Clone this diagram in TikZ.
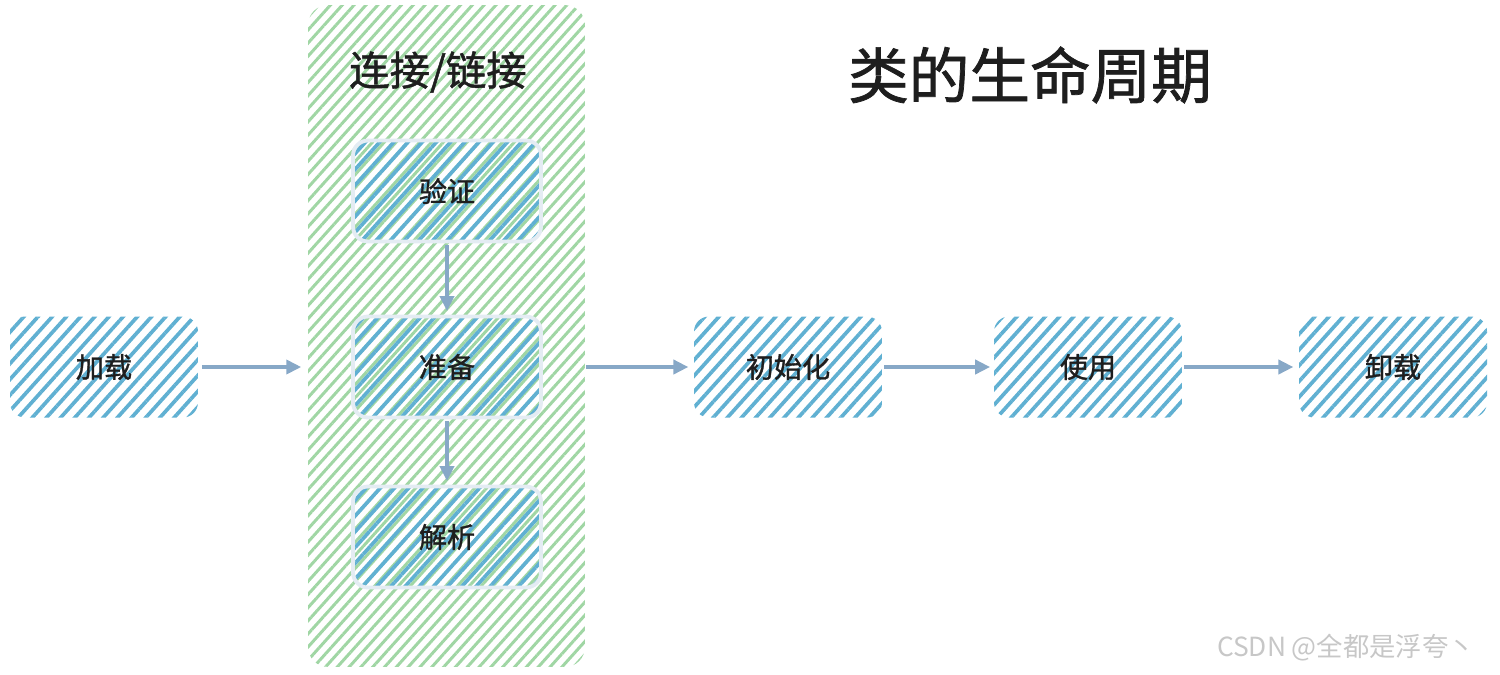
\documentclass[tikz,border=0pt]{standalone}
\usepackage{fontspec}
\newfontfamily\cjk[FakeBold=1.2]{Noto Sans CJK SC}
\newfontfamily\cjkmark{Noto Sans CJK SC}
\usetikzlibrary{patterns.meta,arrows.meta}
\definecolor{hatchblue}{RGB}{96,176,210}
\definecolor{hatchgreen}{RGB}{160,214,164}
\definecolor{arrowblue}{RGB}{135,168,199}
\definecolor{rimgrey}{RGB}{228,236,243}
\definecolor{inkblack}{RGB}{30,30,30}
\begin{document}
\begin{tikzpicture}[x=0.02cm,y=-0.02cm,
  stage/.style={rectangle,rounded corners=0.3cm,minimum width=3.76cm,minimum height=2.02cm,
    pattern={Lines[angle=48,distance=6pt,line width=2.1pt]},pattern color=hatchblue,
    text=inkblack,font=\cjk\fontsize{16}{16}\selectfont},
  substage/.style={stage,draw=rimgrey,line width=2.2pt},
  phase/.style={rectangle,rounded corners=0.4cm,minimum width=5.54cm,minimum height=13.24cm,
    pattern={Lines[angle=48,distance=5pt,line width=1.7pt]},pattern color=hatchgreen},
  flow/.style={draw=arrowblue,line width=2.3pt,-{Triangle[length=0.3cm,width=0.28cm]}}]
\useasboundingbox (0,0) rectangle (1500,674);
% linking phase with its three steps
\node[phase] (link) at (446.5,336) {};
\node[text=inkblack,font=\cjk\fontsize{23}{23}\selectfont] (linktitle) at (438,72) {连接/链接};
\node[substage] (verify) at (447,191) {验证};
\node[substage] (prepare) at (447,367) {准备};
\node[substage] (resolve) at (447,537) {解析};
% the other phases
\node[stage] (load) at (104,367) {加载};
\node[stage] (init) at (788,367) {初始化};
\node[stage] (use) at (1088,367) {使用};
\node[stage] (unload) at (1393,367) {卸载};
\node[text=inkblack,font=\cjk\fontsize{34.5}{34.5}\selectfont] (title) at (1030,75) {类的生命周期};
\node[text=black!22,font=\cjkmark\fontsize{15}{15}\selectfont] (mark) at (1346,648) {CSDN @全都是浮夸丶};
% arrows
\draw[flow,shorten <=2pt,shorten >=3pt] (load.east) -- (load.east -| link.west);
\draw[flow,shorten >=3pt] (prepare.east -| link.east) -- (init.west);
\draw[flow,shorten <=1pt,shorten >=2pt] (init.east) -- (use.west);
\draw[flow,shorten <=1pt,shorten >=3pt] (use.east) -- (unload.west);
\draw[flow,shorten <=1pt,shorten >=2pt] (verify.south) -- (prepare.north);
\draw[flow,shorten <=1pt,shorten >=2pt] (prepare.south) -- (resolve.north);
\end{tikzpicture}
\end{document}
